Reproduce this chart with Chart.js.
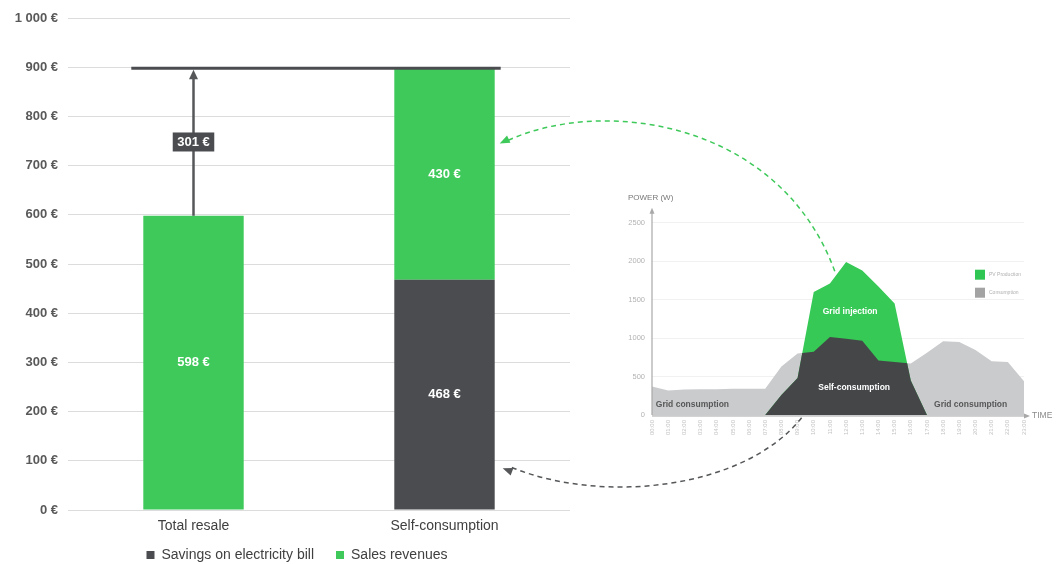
<!DOCTYPE html>
<html><head><meta charset="utf-8">
<script src="https://cdn.jsdelivr.net/npm/chart.js@4.4.1/dist/chart.umd.min.js"></script>
<style>
html,body{margin:0;padding:0;background:#fff;}
#wrap{position:relative;width:1060px;height:564px;overflow:hidden;}
#mainBox{position:absolute;left:0;top:0;width:1060px;height:564px;}
#insetBox{position:absolute;left:600px;top:180px;width:460px;height:280px;}
#arrows{position:absolute;left:0;top:0;pointer-events:none;}
</style></head><body>
<div id="wrap">
  <div id="mainBox"><canvas id="main"></canvas></div>
  <div id="insetBox"><canvas id="inset"></canvas></div>
  <canvas id="arrows" width="1060" height="564"></canvas>
</div>
<script>
// ---------- main chart data ----------
const categories = ['Total resale', 'Self-consumption'];
const savingsOnBill = [0, 468];
const salesRevenues = [598, 430];
const gainLabel = 301;

// ---------- inset chart data ----------
const hours = ['00:00','01:00','02:00','03:00','04:00','05:00','06:00','07:00','08:00','09:00','10:00','11:00',
               '12:00','13:00','14:00','15:00','16:00','17:00','18:00','19:00','20:00','21:00','22:00','23:00'];
const pvProduction = [0,0,0,0,0,0,0,0,260,480,1600,1710,1990,1880,1670,1450,450,0,0,0,0,0,0,0];
const consumption  = [370,320,330,335,335,340,340,340,630,800,821,1015,990,965,710,690,670,810,960,950,845,700,690,440];

const FONT = '"Liberation Sans", Arial, Helvetica, sans-serif';
Chart.defaults.font.family = FONT;

const GREEN = '#3ec95a', DARK = '#4a4c4f';

function euro(v){ return String(v).replace(/\B(?=(\d{3})+(?!\d))/g, ' ') + ' €'; }

const mainDeco = {
  id: 'mainDeco',
  afterLayout(chart){
    const lg = chart.legend;
    if (lg) { lg.left += 12; lg.right += 12; lg.top -= 8; }
  },
  afterDatasetsDraw(chart){
    const {ctx, scales:{y}} = chart;
    ctx.save();
    ctx.font = 'bold 13px ' + FONT;
    ctx.fillStyle = '#ffffff'; ctx.textAlign = 'center'; ctx.textBaseline = 'middle';
    chart.data.datasets.forEach((ds, di) => {
      chart.getDatasetMeta(di).data.forEach((bar, i) => {
        const v = ds.data[i];
        if (!v) return;
        ctx.fillText(euro(v), bar.x, (bar.y + bar.base) / 2);
      });
    });
    const totals = categories.map((_, i) => savingsOnBill[i] + salesRevenues[i]);
    const top = chart.getDatasetMeta(1).data;
    const b0 = top[0], b1 = top[1];
    const yTop = y.getPixelForValue(Math.max(...totals));
    const yBase = y.getPixelForValue(totals[0]);
    // total line
    ctx.strokeStyle = DARK; ctx.lineWidth = 3;
    ctx.beginPath(); ctx.moveTo(b0.x - b0.width/2 - 12, yTop); ctx.lineTo(b1.x + b1.width/2 + 6, yTop); ctx.stroke();
    // vertical arrow
    ctx.strokeStyle = '#555759'; ctx.lineWidth = 2.5;
    ctx.beginPath(); ctx.moveTo(b0.x, yBase); ctx.lineTo(b0.x, yTop + 8); ctx.stroke();
    ctx.fillStyle = '#555759';
    ctx.beginPath(); ctx.moveTo(b0.x, yTop + 1.5); ctx.lineTo(b0.x - 4.5, yTop + 11); ctx.lineTo(b0.x + 4.5, yTop + 11); ctx.closePath(); ctx.fill();
    // label box
    const ly = (yBase + yTop) / 2;
    const txt = euro(gainLabel);
    const w = ctx.measureText(txt).width + 9;
    ctx.fillStyle = DARK;
    ctx.fillRect(b0.x - w/2, ly - 9.5, w, 19);
    ctx.fillStyle = '#fff';
    ctx.fillText(txt, b0.x, ly + 0.5);
    ctx.restore();
  }
};

const mainChart = new Chart(document.getElementById('main'), {
  type: 'bar',
  data: {
    labels: categories,
    datasets: [
      {label: 'Savings on electricity bill', data: savingsOnBill, backgroundColor: DARK},
      {label: 'Sales revenues', data: salesRevenues, backgroundColor: GREEN}
    ]
  },
  options: {
    responsive: true, maintainAspectRatio: false, animation: false,
    datasets: {bar: {categoryPercentage: 1, barPercentage: 0.4}},
    layout: {padding: {left: 0, right: 490, top: 18, bottom: 0}},
    plugins: {
      legend: {position: 'bottom', maxHeight: 30,
        labels: {boxWidth: 8, boxHeight: 8, padding: 22, color: '#404040', font: {size: 14}}},
      tooltip: {enabled: false}
    },
    scales: {
      x: {stacked: true, grid: {display: false, drawTicks: false}, border: {display: false},
          ticks: {color: '#404040', font: {size: 14}, padding: 8},
          afterFit(s){ s.height = 24; }},
      y: {stacked: true, min: 0, max: 1000,
          ticks: {stepSize: 100, callback: v => euro(v), color: '#595959', font: {size: 13, weight: 'bold'}, padding: 10},
          grid: {color: '#dcdcdc', drawTicks: false}, border: {display: false},
          afterFit(s){ s.width = 68; }}
    }
  },
  plugins: [mainDeco]
});

// ---------- inset ----------
const insetDeco = {
  id: 'insetDeco',
  afterDatasetsDraw(chart){
    const {ctx, chartArea: ca, scales: {x, y}} = chart;
    const sc = chart.getDatasetMeta(0).data, pv = chart.getDatasetMeta(1).data;
    const base = y.getPixelForValue(0);
    ctx.save();
    ctx.beginPath();
    ctx.moveTo(pv[0].x, base);
    pv.forEach(p => ctx.lineTo(p.x, p.y));
    ctx.lineTo(pv[pv.length-1].x, base);
    ctx.closePath();
    ctx.clip();
    ctx.beginPath();
    ctx.moveTo(sc[0].x, base);
    sc.forEach(p => ctx.lineTo(p.x, p.y));
    ctx.lineTo(sc[sc.length-1].x, base);
    ctx.closePath();
    ctx.fillStyle = chart.data.datasets[0].backgroundColor;
    ctx.fill();
    ctx.restore();

    ctx.save();
    // axes with arrows
    ctx.strokeStyle = '#a8a8a8'; ctx.fillStyle = '#a8a8a8'; ctx.lineWidth = 1.2;
    const x0 = x.getPixelForValue(0);
    ctx.beginPath(); ctx.moveTo(x0, base); ctx.lineTo(x0, ca.top - 12); ctx.stroke();
    ctx.beginPath(); ctx.moveTo(x0, ca.top - 15); ctx.lineTo(x0 - 2.5, ca.top - 9); ctx.lineTo(x0 + 2.5, ca.top - 9); ctx.closePath(); ctx.fill();
    ctx.beginPath(); ctx.moveTo(x0, base + 1); ctx.lineTo(ca.right + 2, base + 1); ctx.stroke();
    ctx.beginPath(); ctx.moveTo(ca.right + 6, base + 1); ctx.lineTo(ca.right, base - 1.5); ctx.lineTo(ca.right, base + 3.5); ctx.closePath(); ctx.fill();
    // axis titles
    ctx.fillStyle = '#777'; ctx.font = '8px ' + FONT; ctx.textBaseline = 'middle'; ctx.textAlign = 'left';
    ctx.fillText('POWER (W)', x0 - 24, ca.top - 25);
    ctx.fillStyle = '#8a8a8a'; ctx.font = '8.5px ' + FONT;
    ctx.fillText('TIME', ca.right + 8, base + 0.5);
    // region labels
    const regions = [
      {t: 'Grid consumption', h: 2.5, w: 130, c: '#575757'},
      {t: 'Self-consumption', h: 12.5, w: 360, c: '#ffffff'},
      {t: 'Grid injection', h: 12.25, w: 1340, c: '#ffffff'},
      {t: 'Grid consumption', h: 19.7, w: 130, c: '#575757'}
    ];
    ctx.font = 'bold 8.5px ' + FONT; ctx.textAlign = 'center';
    regions.forEach(r => { ctx.fillStyle = r.c; ctx.fillText(r.t, x.getPixelForValue(r.h), y.getPixelForValue(r.w)); });
    // legend
    const items = [chart.data.datasets[1], chart.data.datasets[2]];
    const lx = ca.right - 49;
    items.forEach((d, i) => {
      const ly = ca.top + 47 + i * 18;
      ctx.fillStyle = i === 0 ? '#2fc653' : '#a3a3a3';
      ctx.fillRect(lx, ly, 10, 10);
      ctx.fillStyle = '#b0b0b0'; ctx.font = '5px ' + FONT; ctx.textAlign = 'left';
      ctx.fillText(d.label, lx + 14, ly + 5);
    });
    ctx.restore();
  }
};

const insetChart = new Chart(document.getElementById('inset'), {
  type: 'line',
  data: {
    labels: hours,
    datasets: [
      {label: 'Self-consumption', data: consumption, backgroundColor: '#444648', showLine: false, fill: false, pointRadius: 0, borderWidth: 0, order: 1},
      {label: 'PV Production', data: pvProduction, backgroundColor: '#36c955', borderColor: 'rgba(0,0,0,0)', fill: 'origin', pointRadius: 0, borderWidth: 0, tension: 0, order: 2},
      {label: 'Consumption', data: consumption, backgroundColor: '#cacbcd', borderColor: 'rgba(0,0,0,0)', fill: 'origin', pointRadius: 0, borderWidth: 0, tension: 0, order: 3}
    ]
  },
  options: {
    responsive: true, maintainAspectRatio: false, animation: false,
    layout: {padding: {left: 0, right: 36, top: 42.7, bottom: 0}},
    plugins: {legend: {display: false}, tooltip: {enabled: false}},
    scales: {
      x: {grid: {display: false, drawTicks: false}, border: {display: false},
          ticks: {font: {size: 6}, color: '#c2c2c2', minRotation: 90, maxRotation: 90, autoSkip: false, padding: 5},
          afterFit(s){ s.height = 45; }},
      y: {min: 0, max: 2500,
          ticks: {stepSize: 500, callback: v => String(v), font: {size: 7.5}, color: '#b3b3b3', padding: 7},
          grid: {color: '#f1f1f1', drawTicks: false}, border: {display: false},
          afterFit(s){ s.width = 52; }}
    }
  },
  plugins: [insetDeco]
});

// ---------- connecting dashed arrows ----------
(function drawArrows(){
  const c = document.getElementById('arrows');
  const ctx = c.getContext('2d');
  const INX = 600, INY = 180;
  const bar = mainChart.getDatasetMeta(1).data[1];
  const barRight = bar.x + bar.width / 2;
  const my = mainChart.scales.y, ix = insetChart.scales.x, iy = insetChart.scales.y;

  function curve(p0, c1, c2, p3, color){
    ctx.save();
    ctx.strokeStyle = color; ctx.fillStyle = color; ctx.lineWidth = 1.5;
    ctx.setLineDash([5, 4]);
    ctx.beginPath(); ctx.moveTo(p0[0], p0[1]); ctx.bezierCurveTo(c1[0], c1[1], c2[0], c2[1], p3[0] + 6, p3[1] - 2); ctx.stroke();
    ctx.setLineDash([]);
    const ang = Math.atan2(p3[1] - c2[1], p3[0] - c2[0]);
    const L = 10, W = 4;
    ctx.beginPath();
    ctx.moveTo(p3[0], p3[1]);
    ctx.lineTo(p3[0] - L*Math.cos(ang) + W*Math.sin(ang), p3[1] - L*Math.sin(ang) - W*Math.cos(ang));
    ctx.lineTo(p3[0] - L*Math.cos(ang) - W*Math.sin(ang), p3[1] - L*Math.sin(ang) + W*Math.cos(ang));
    ctx.closePath(); ctx.fill();
    ctx.restore();
  }
  // green: from PV peak to sales revenues segment
  const g0 = [INX + ix.getPixelForValue(11.3), INY + iy.getPixelForValue(1870)];
  const g3 = [barRight + 5, my.getPixelForValue(745)];
  curve(g0, [g0[0] - 56, g0[1] - 152], [g3[0] + 100, g3[1] - 47], g3, '#3ec95a');
  // dark: from self-consumption area to savings segment
  const d0 = [INX + ix.getPixelForValue(9.25), INY + iy.getPixelForValue(-35)];
  const d3 = [barRight + 8, my.getPixelForValue(85)];
  curve(d0, [d0[0] - 57, d0[1] + 72], [d3[0] + 98, d3[1] + 37], d3, '#555759');
})();
</script>
</body></html>
